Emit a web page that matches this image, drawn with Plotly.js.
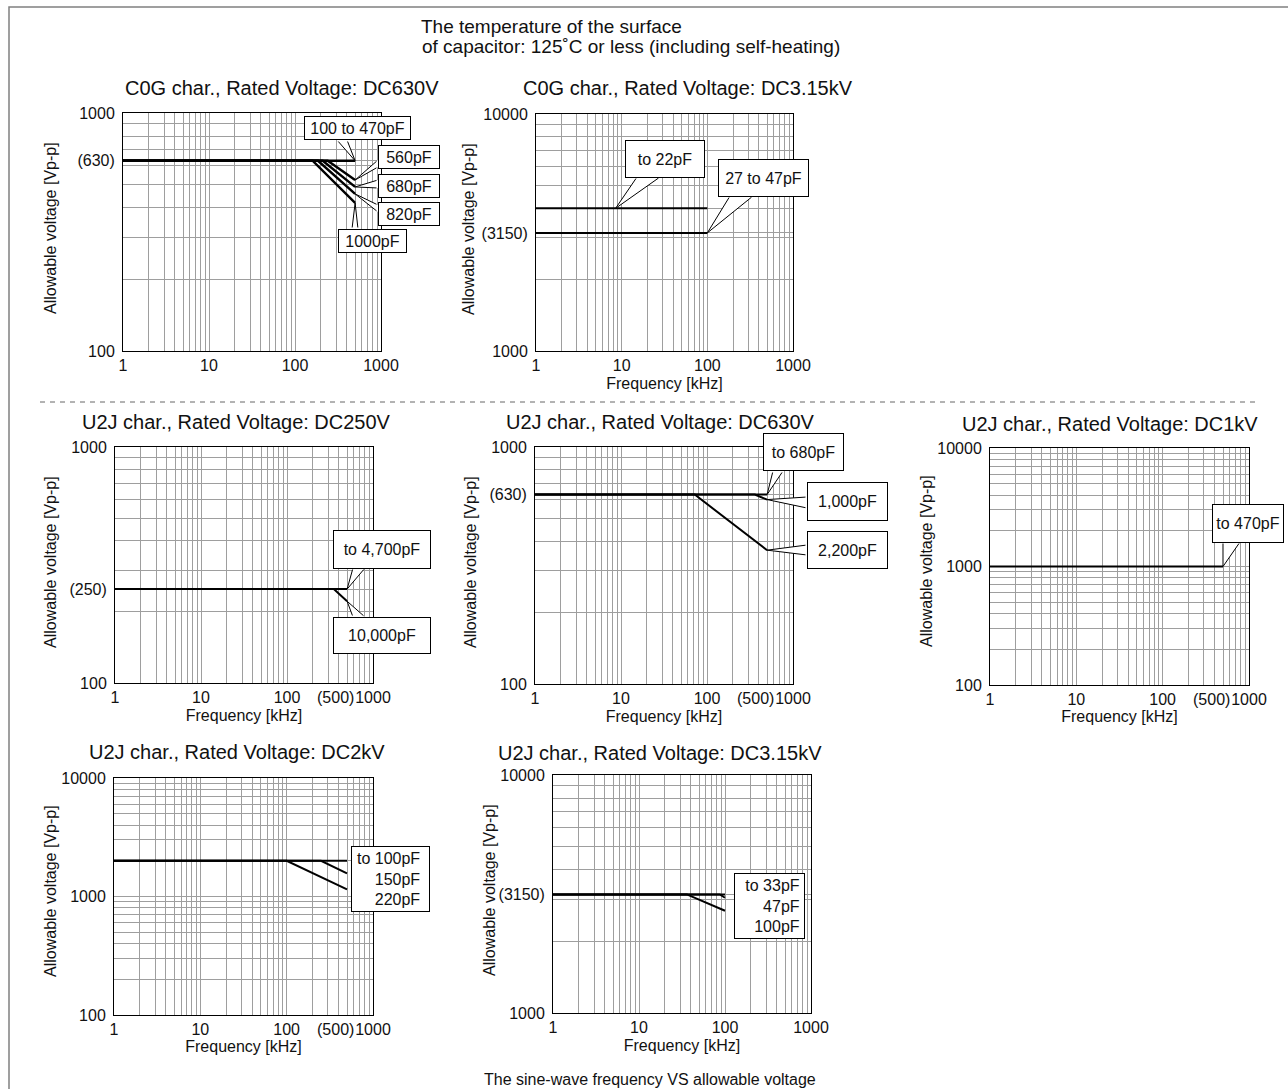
<!DOCTYPE html>
<html><head><meta charset="utf-8">
<script src="https://cdn.plot.ly/plotly-3.0.1.min.js"></script>
<style>html,body{margin:0;padding:0;background:#fff;}</style>
</head><body>
<div id="chart" style="width:1288px;height:1089px;"></div>
<script>
// ================= DATA =================
// C0G char., Rated Voltage DC630V  (frequency kHz, allowable voltage Vp-p)
const c630_f_100to470 = [1, 500];      const c630_v_100to470 = [630, 630];
const c630_f_560  = [1, 240, 500];     const c630_v_560  = [630, 630, 523];
const c630_f_680  = [1, 210, 500];     const c630_v_680  = [630, 630, 489];
const c630_f_820  = [1, 185, 500];     const c630_v_820  = [630, 630, 457];
const c630_f_1000 = [1, 160, 500];     const c630_v_1000 = [630, 630, 419];
// C0G char., Rated Voltage DC3.15kV
const c3k_f_to22   = [1, 100];         const c3k_v_to22   = [4000, 4000];
const c3k_f_27to47 = [1, 100];         const c3k_v_27to47 = [3150, 3150];
// U2J char., Rated Voltage DC250V
const u250_f_to4700 = [1, 500];        const u250_v_to4700 = [250, 250];
const u250_f_10000  = [1, 350, 500];   const u250_v_10000  = [250, 250, 222];
// U2J char., Rated Voltage DC630V
const u630_f_to680 = [1, 500];         const u630_v_to680 = [630, 630];
const u630_f_1000  = [1, 360, 500];    const u630_v_1000  = [630, 630, 600];
const u630_f_2200  = [1, 72, 500];     const u630_v_2200  = [630, 630, 367];
// U2J char., Rated Voltage DC1kV
const u1k_f_to470 = [1, 500];          const u1k_v_to470 = [1000, 1000];
// U2J char., Rated Voltage DC2kV
const u2k_f_to100 = [1, 500];          const u2k_v_to100 = [2000, 2000];
const u2k_f_150   = [1, 250, 500];     const u2k_v_150   = [2000, 2000, 1565];
const u2k_f_220   = [1, 100, 500];     const u2k_v_220   = [2000, 2000, 1150];
// U2J char., Rated Voltage DC3.15kV
const u3k_f_to33 = [1, 100];           const u3k_v_to33 = [3150, 3150];
const u3k_f_47   = [1, 87, 100];       const u3k_v_47   = [3150, 3150, 3050];
const u3k_f_100  = [1, 36, 100];       const u3k_v_100  = [3150, 3150, 2690];

// tick labels
const xTickVals = [1, 10, 100, 1000];
const xTickText = ['1', '10', '100', '1000'];
const xExtraLabelVal = 500;  const xExtraLabelText = '(500)';
const yTickVals_630  = [100, 630, 1000];     const yTickText_630  = ['100', '(630)', '1000'];
const yTickVals_3150 = [1000, 3150, 10000];  const yTickText_3150 = ['1000', '(3150)', '10000'];
const yTickVals_250  = [100, 250, 1000];     const yTickText_250  = ['100', '(250)', '1000'];
const yTickVals_2dec = [100, 1000, 10000];   const yTickText_2dec = ['100', '1000', '10000'];

const titles = [
  'C0G char., Rated Voltage: DC630V', 'C0G char., Rated Voltage: DC3.15kV',
  'U2J char., Rated Voltage: DC250V', 'U2J char., Rated Voltage: DC630V',
  'U2J char., Rated Voltage: DC1kV', 'U2J char., Rated Voltage: DC2kV',
  'U2J char., Rated Voltage: DC3.15kV'
];

// ================= LAYOUT HELPERS =================
const W = 1288, H = 1089;
const FONT = 'Liberation Sans, Arial, Helvetica, sans-serif';
const px = x => x / W, py = y => 1 - y / H;

// plot areas in pixels, log ranges
const SP = [
  {x0:123, x1:381, y0:113, y1:351, xr:[0,3], yr:[2,3], x500:false, yt:'630',  tpos:[282,88],   ytpos:[50,228],  xtitle:false, xs:4},
  {x0:536, x1:793, y0:114, y1:351, xr:[0,3], yr:[3,4], x500:false, yt:'3150', tpos:[688,88],   ytpos:[469,229], xtitle:true,  xs:4},
  {x0:115, x1:373, y0:447, y1:683, xr:[0,3], yr:[2,3], x500:true,  yt:'250',  tpos:[236,422],  ytpos:[50,562],  xtitle:true,  xs:4},
  {x0:535, x1:793, y0:447, y1:684, xr:[0,3], yr:[2,3], x500:true,  yt:'630',  tpos:[660,422],  ytpos:[470,562], xtitle:true,  xs:4},
  {x0:990, x1:1249,y0:448, y1:685, xr:[0,3], yr:[2,4], x500:true,  yt:'2dec', tpos:[1110,424], ytpos:[926,561], xtitle:true,  xs:1},
  {x0:114, x1:373, y0:778, y1:1015,xr:[0,3], yr:[2,4], x500:true,  yt:'2dec', tpos:[237,752],  ytpos:[50,891],  xtitle:true,  xs:2},
  {x0:553, x1:811, y0:775, y1:1013,xr:[0,3], yr:[3,4], x500:false, yt:'3150', tpos:[660,753],  ytpos:[489,890], xtitle:true,  xs:4}
];
const yTickSets = {
  '630': [yTickVals_630, yTickText_630], '3150': [yTickVals_3150, yTickText_3150],
  '250': [yTickVals_250, yTickText_250], '2dec': [yTickVals_2dec, yTickText_2dec]
};

// full log grid (1..9 per decade) merged with labelled ticks
function logGrid(r0, r1, labVals, labText) {
  const vals = [], text = [];
  for (let d = r0; d < r1; d++) for (let k = 1; k <= 9; k++) vals.push(k * Math.pow(10, d));
  vals.push(Math.pow(10, r1));
  labVals.forEach(v => { if (!vals.some(g => Math.abs(g - v) / v < 1e-9)) vals.push(v); });
  vals.sort((a, b) => a - b);
  vals.forEach(v => {
    const i = labVals.findIndex(l => Math.abs(l - v) / v < 1e-9);
    text.push(i >= 0 ? labText[i] : '');
  });
  return [vals, text];
}
function tipPx(s, f, v) {
  return [s.x0 + (Math.log10(f) - s.xr[0]) / (s.xr[1] - s.xr[0]) * (s.x1 - s.x0),
          s.y1 - (Math.log10(v) - s.yr[0]) / (s.yr[1] - s.yr[0]) * (s.y1 - s.y0)];
}

const GRID = '#9e9e9e';
const TXT = '#111';
const layout = {
  width: W, height: H, autosize: false,
  margin: {l:0, r:0, t:0, b:0},
  paper_bgcolor: '#fff', plot_bgcolor: '#fff',
  showlegend: false, hovermode: false,
  font: {family: FONT, color: TXT, size: 16},
  title: {text: 'The temperature of the surface', x: 421/W, xanchor: 'left',
          y: 1 - 26/H, yanchor: 'middle', xref: 'container', yref: 'container',
          font: {family: FONT, size: 19, color: TXT}},
  annotations: [], shapes: []
};

SP.forEach((s, i) => {
  const n = i === 0 ? '' : String(i + 1);
  const [xv, xtxt] = logGrid(s.xr[0], s.xr[1], xTickVals, xTickText);
  const [yv, ytxt] = logGrid(s.yr[0], s.yr[1], yTickSets[s.yt][0], yTickSets[s.yt][1]);
  layout['xaxis' + n] = {
    type: 'log', domain: [px(s.x0), px(s.x1)], range: s.xr, anchor: 'y' + n,
    tickmode: 'array', tickvals: xv, ticktext: xtxt, tickangle: 0, ticks: '',
    ticklabelstandoff: 0,
    showgrid: true, gridcolor: GRID, gridwidth: 1, zeroline: false,
    showline: true, mirror: true, linecolor: '#000', linewidth: 1,
    tickfont: {family: FONT, size: 16, color: TXT}, automargin: false, fixedrange: true,
    title: s.xtitle ? {text: 'Frequency [kHz]', standoff: s.xs, font: {family: FONT, size: 16, color: TXT}} : {text: ''}
  };
  layout['yaxis' + n] = {
    type: 'log', domain: [py(s.y1), py(s.y0)], range: s.yr, anchor: 'x' + n,
    tickmode: 'array', tickvals: yv, ticktext: ytxt, ticks: '',
    ticklabelstandoff: 4,
    showgrid: true, gridcolor: GRID, gridwidth: 1, zeroline: false,
    showline: true, mirror: true, linecolor: '#000', linewidth: 1,
    tickfont: {family: FONT, size: 16, color: TXT}, automargin: false, fixedrange: true,
    title: {text: ''}
  };
  // subplot title
  layout.annotations.push({
    xref: 'paper', yref: 'paper', x: px(s.tpos[0]), y: py(s.tpos[1]),
    xanchor: 'center', yanchor: 'middle', showarrow: false, text: titles[i],
    font: {family: FONT, size: 20, color: TXT}
  });
  // y-axis title
  layout.annotations.push({
    xref: 'paper', yref: 'paper', x: px(s.ytpos[0]), y: py(s.ytpos[1]),
    xanchor: 'center', yanchor: 'middle', showarrow: false, textangle: -90,
    text: 'Allowable voltage [Vp-p]', font: {family: FONT, size: 16, color: TXT}
  });
  // "(500)" label placed just left of the "1000" label
  if (s.x500) {
    layout.annotations.push({
      xref: 'paper', yref: 'paper', x: px(s.x1 - 18), y: py(s.y1 + 14),
      xanchor: 'right', yanchor: 'middle', showarrow: false, text: xExtraLabelText,
      font: {family: FONT, size: 16, color: TXT}, borderpad: 0
    });
  }
});

// ================= TRACES =================
const series = [
  [0, c630_f_100to470, c630_v_100to470], [0, c630_f_560, c630_v_560], [0, c630_f_680, c630_v_680],
  [0, c630_f_820, c630_v_820], [0, c630_f_1000, c630_v_1000],
  [1, c3k_f_to22, c3k_v_to22], [1, c3k_f_27to47, c3k_v_27to47],
  [2, u250_f_to4700, u250_v_to4700], [2, u250_f_10000, u250_v_10000],
  [3, u630_f_to680, u630_v_to680], [3, u630_f_1000, u630_v_1000], [3, u630_f_2200, u630_v_2200],
  [4, u1k_f_to470, u1k_v_to470],
  [5, u2k_f_to100, u2k_v_to100], [5, u2k_f_150, u2k_v_150], [5, u2k_f_220, u2k_v_220],
  [6, u3k_f_to33, u3k_v_to33], [6, u3k_f_47, u3k_v_47], [6, u3k_f_100, u3k_v_100]
];
const data = series.map(([i, f, v]) => ({
  type: 'scatter', mode: 'lines', x: f, y: v,
  xaxis: 'x' + (i === 0 ? '' : i + 1), yaxis: 'y' + (i === 0 ? '' : i + 1),
  line: {color: '#000', width: i === 0 ? 2.4 : 2}, hoverinfo: 'skip', cliponaxis: false
}));

// ================= CALLOUTS =================
const last = a => a[a.length - 1];
// box: [x0, y0, x1, y1] in px; tip: [f, v]; bases: wedge base points in px
const callouts = [
  {sp:0, text:'100 to 470pF', box:[304,117,410,140], tip:[last(c630_f_100to470), last(c630_v_100to470)], bases:[[337,140],[347,140]]},
  {sp:0, text:'560pF',  box:[378,146,439,169], tip:[last(c630_f_560), last(c630_v_560)],   bases:[[378,160],[378,167]]},
  {sp:0, text:'680pF',  box:[378,174,439,197], tip:[last(c630_f_680), last(c630_v_680)],   bases:[[378,180],[378,188]]},
  {sp:0, text:'820pF',  box:[378,202,439,225], tip:[last(c630_f_820), last(c630_v_820)],   bases:[[378,205],[378,212]]},
  {sp:0, text:'1000pF', box:[338,229,406,252], tip:[last(c630_f_1000), last(c630_v_1000)], bases:[[352,229],[358,229]]},
  {sp:1, text:'to 22pF',    box:[626,140,705,177], tip:[8.5, c3k_v_to22[0]], bases:[[637,177],[660,177]]},
  {sp:1, text:'27 to 47pF', box:[719,159,809,196], tip:[last(c3k_f_27to47), last(c3k_v_27to47)], bases:[[730,196],[753,196]]},
  {sp:2, text:'to 4,700pF', box:[333,530,430,568], tip:[last(u250_f_to4700), last(u250_v_to4700)], bases:[[353,568],[365,568]]},
  {sp:2, text:'10,000pF',   box:[333,617,430,653], tip:[last(u250_f_10000), last(u250_v_10000)],   bases:[[353,617],[365,617]]},
  {sp:3, text:'to 680pF', box:[763,434,843,471], tip:[last(u630_f_to680), last(u630_v_to680)], bases:[[773,471],[783,471]]},
  {sp:3, text:'1,000pF',  box:[807,482,887,520], tip:[last(u630_f_1000), last(u630_v_1000)],   bases:[[807,497],[807,508]]},
  {sp:3, text:'2,200pF',  box:[807,532,887,569], tip:[last(u630_f_2200), last(u630_v_2200)],   bases:[[807,545],[807,555]]},
  {sp:4, text:'to 470pF', box:[1212,504,1283,542], tip:[last(u1k_f_to470), last(u1k_v_to470)], bases:[[1223,542],[1240,542]]},
  {sp:5, text:'to 100pF\u00a0\u00a0<br>150pF\u00a0\u00a0<br>220pF\u00a0\u00a0', align:'right', box:[351,846,429,911]},
  {sp:6, text:'to 33pF\u00a0<br>47pF\u00a0<br>100pF\u00a0', align:'right', box:[734,873,804,938]}
];
callouts.forEach(c => {
  const s = SP[c.sp];
  const n = c.sp === 0 ? '' : String(c.sp + 1);
  if (c.tip) {
    const [tx, ty] = tipPx(s, c.tip[0], c.tip[1]);
    // white wedge body (hides grid inside the pointer)
    const [b1, b2] = c.bases;
    layout.shapes.push({
      type: 'path', xref: 'paper', yref: 'paper', layer: 'above',
      path: `M ${px(b1[0])},${py(b1[1])} L ${px(tx)},${py(ty)} L ${px(b2[0])},${py(b2[1])} Z`,
      fillcolor: '#fff', line: {width: 0}
    });
    c.bases.forEach(b => layout.annotations.push({
      xref: 'x' + n, yref: 'y' + n, x: Math.log10(c.tip[0]), y: Math.log10(c.tip[1]),
      text: '', showarrow: true, arrowhead: 0, arrowwidth: 1, arrowcolor: '#000',
      ax: b[0] - tx, ay: b[1] - ty, standoff: 0, startstandoff: 0
    }));
  }
  const [x0, y0, x1, y1] = c.box;
  layout.annotations.push({
    xref: 'paper', yref: 'paper', x: px((x0 + x1) / 2), y: py((y0 + y1) / 2),
    xanchor: 'center', yanchor: 'middle', showarrow: false, text: c.text,
    width: x1 - x0 - 1, height: y1 - y0 - 1, align: c.align || 'center', valign: 'middle',
    bgcolor: '#fff', bordercolor: '#000', borderwidth: 1, borderpad: 0,
    font: {family: FONT, size: 16, color: TXT}
  });
});

// second title line and footer
layout.annotations.push({
  xref: 'paper', yref: 'paper', x: px(420), y: py(47), xanchor: 'left', yanchor: 'middle',
  showarrow: false, text: 'of capacitor: 125˚C or less (including self-heating)',
  font: {family: FONT, size: 19, color: TXT}
});
layout.annotations.push({
  xref: 'paper', yref: 'paper', x: px(650), y: py(1079), xanchor: 'center', yanchor: 'middle',
  showarrow: false, text: 'The sine-wave frequency VS allowable voltage',
  font: {family: FONT, size: 16, color: TXT}
});

// frame and dashed separator
layout.shapes.push({type: 'rect', xref: 'paper', yref: 'paper', x0: px(9), y0: py(7), x1: px(1310), y1: py(1110),
  line: {color: '#808080', width: 1.5}});
layout.shapes.push({type: 'line', xref: 'paper', yref: 'paper', x0: px(40), x1: px(1258), y0: py(402), y1: py(402),
  line: {color: '#666', width: 1, dash: '5px,5px'}});

Plotly.newPlot('chart', data, layout, {displayModeBar: false, staticPlot: true});
</script>
</body></html>
